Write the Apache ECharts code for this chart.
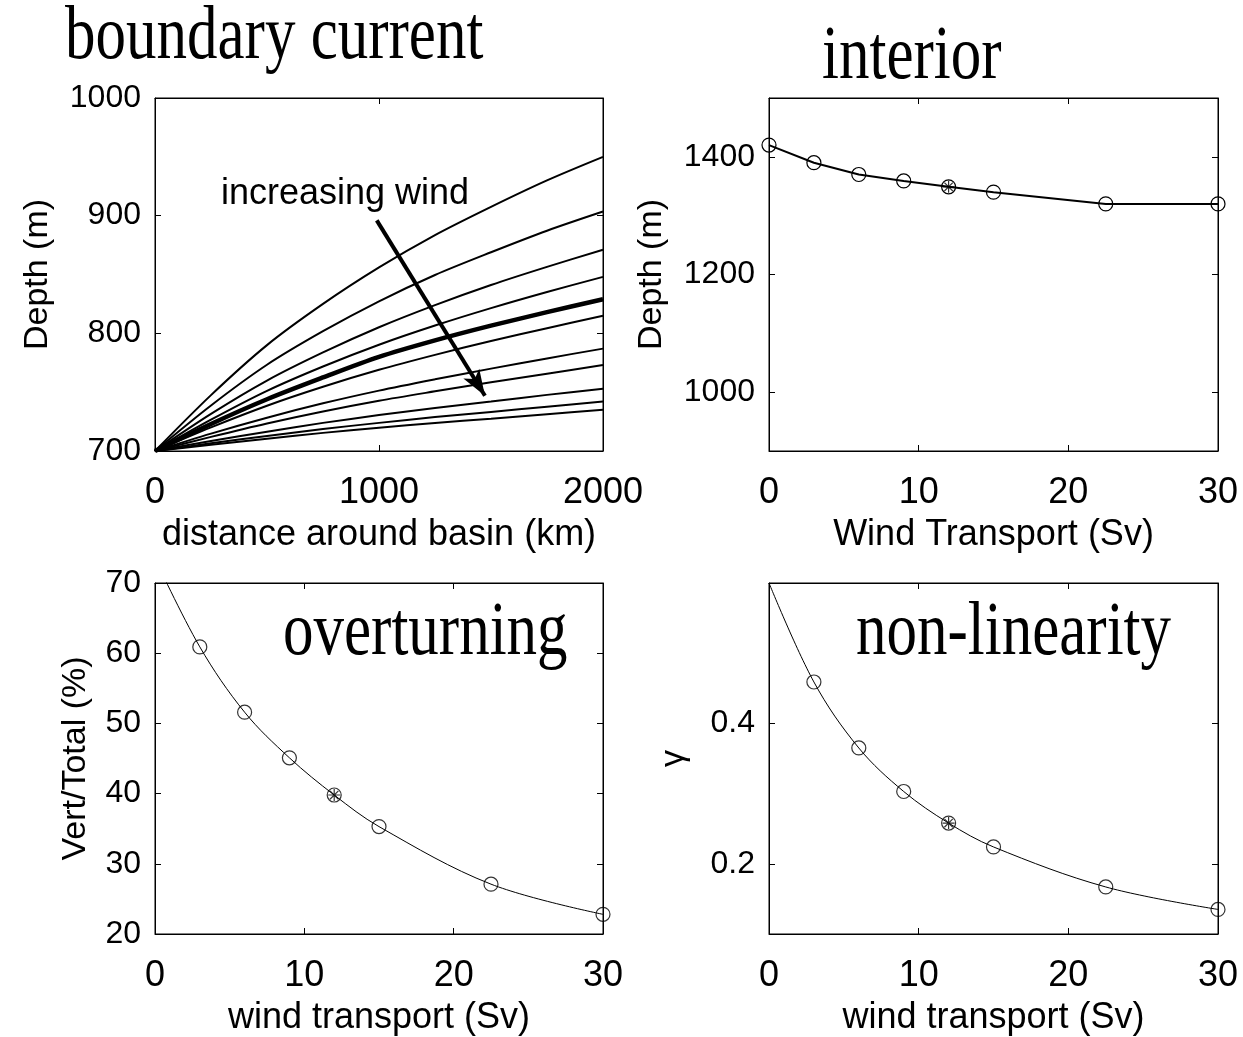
<!DOCTYPE html>
<html>
<head>
<meta charset="utf-8">
<script src="https://cdn.jsdelivr.net/npm/echarts@6/dist/echarts.min.js"></script>
<style>
  html, body { margin: 0; background: #fff; }
  #chart { width: 1243px; height: 1037px; }
</style>
</head>
<body>
<div id="chart"></div>
<script>
// ---- data ----
// boundary current: depth (m) along the basin edge, one curve per wind strength
const distKm = [0, 250, 500, 750, 1000, 1250, 1500, 1750, 2000];
const bcDepth = [
  [700, 747.5, 790, 825, 856, 883.5, 907.5, 930, 950],
  [700, 738.7, 773.3, 801.8, 827.2, 849.6, 868.9, 887.2, 903.5],
  [700, 731.6, 759.9, 783.8, 805.2, 824, 841.1, 856.5, 871],
  [700, 726.6, 751.1, 771.8, 790.3, 806.6, 821.4, 835.1, 848],
  [700, 723, 744, 762.5, 780, 794, 806.5, 818, 829],
  [700, 720.1, 738.5, 754.6, 769, 781.7, 793.5, 804.4, 815],
  [700, 714.8, 728.3, 740.5, 751.3, 760.9, 770, 778.7, 787],
  [700, 712, 723.4, 733.6, 742.7, 750.7, 758.4, 765.7, 773],
  [700, 708.5, 716.4, 723.9, 730.5, 736.6, 742.1, 747.7, 753],
  [700, 706.5, 712.8, 718.7, 723.9, 728.8, 733.2, 737.6, 742],
  [700, 705.3, 710.5, 715.4, 719.8, 723.8, 727.5, 731.3, 735]
];
const boldCurve = 4;
const arrowFrom = [990, 896];
const arrowTo = [1473, 747];

// interior depth vs wind transport
const windSv = [0, 3, 6, 9, 12, 15, 22.5, 30];
const interiorDepth = [1420, 1390, 1370, 1359, 1349, 1340, 1320, 1320];

// overturning and non-linearity (first value is where the curve leaves the top of the box)
const overturnPct = [73.5, 60.9, 51.6, 45.1, 39.8, 35.3, 27.1, 22.8];
const gammaVal = [0.600, 0.459, 0.365, 0.303, 0.258, 0.224, 0.167, 0.135];
const starSv = 12;

// tick values
const bcXTicks = [0, 1000, 2000];
const bcYTicks = [700, 800, 900, 1000];
const windTicks = [0, 10, 20, 30];
const interiorTicks = [1000, 1200, 1400];
const overturnTicks = [20, 30, 40, 50, 60, 70];
const gammaTicks = [0.2, 0.4];

// ---- styling helpers ----
const SANS = '"Liberation Sans", Arial, Helvetica, sans-serif';
const SERIF = '"Liberation Serif", "Times New Roman", serif';
const INK = '#000';

function axis(gridIndex, pos, min, max, ticks, opts) {
  opts = opts || {};
  const main = pos === 'bottom' || pos === 'left';
  const isX = pos === 'bottom' || pos === 'top';
  return {
    type: 'value',
    gridIndex: gridIndex,
    position: pos,
    min: min,
    max: max,
    name: main ? (opts.name || '') : '',
    nameLocation: 'middle',
    nameGap: opts.nameGap || 60,
    nameRotate: isX ? 0 : 90,
    nameTextStyle: { fontFamily: SANS, fontSize: isX ? 36 : 34, color: INK },
    axisLine: { show: true, onZero: false, lineStyle: { color: INK, width: 1 } },
    axisTick: { show: true, inside: true, length: 6, customValues: ticks, lineStyle: { color: INK, width: 1 } },
    axisLabel: {
      show: main,
      customValues: ticks,
      formatter: v => String(v),
      fontFamily: SANS,
      fontSize: isX ? 36 : 32,
      color: INK,
      margin: isX ? 24 : 14
    },
    splitLine: { show: false }
  };
}

const grids = [
  { left: 155, top: 98, width: 448, height: 353 },
  { left: 769, top: 98, width: 449, height: 353 },
  { left: 155, top: 583, width: 448, height: 353 },
  { left: 769, top: 583, width: 449, height: 353 }
].map(g => Object.assign({ show: true, borderColor: INK, borderWidth: 1, backgroundColor: '#fff' }, g));

const xAxes = [
  axis(0, 'bottom', 0, 2000, bcXTicks, { name: 'distance around basin (km)', nameGap: 66 }),
  axis(0, 'top', 0, 2000, bcXTicks),
  axis(1, 'bottom', 0, 30, windTicks, { name: 'Wind Transport (Sv)', nameGap: 66 }),
  axis(1, 'top', 0, 30, windTicks),
  axis(2, 'bottom', 0, 30, windTicks, { name: 'wind transport (Sv)', nameGap: 66 }),
  axis(2, 'top', 0, 30, windTicks),
  axis(3, 'bottom', 0, 30, windTicks, { name: 'wind transport (Sv)', nameGap: 66 }),
  axis(3, 'top', 0, 30, windTicks)
];
const yAxes = [
  axis(0, 'left', 700, 1000, bcYTicks, { name: 'Depth (m)', nameGap: 100 }),
  axis(0, 'right', 700, 1000, bcYTicks),
  axis(1, 'left', 900, 1500, interiorTicks, { name: 'Depth (m)', nameGap: 100 }),
  axis(1, 'right', 900, 1500, interiorTicks),
  axis(2, 'left', 20, 70, overturnTicks, { name: 'Vert/Total (%)', nameGap: 62 }),
  axis(2, 'right', 20, 70, overturnTicks),
  axis(3, 'left', 0.1, 0.6, gammaTicks, { name: 'γ', nameGap: 78 }),
  axis(3, 'right', 0.1, 0.6, gammaTicks)
];

const STAR = 'path://M0,-10L0,10M-10,0L10,0M-7,-7L7,7M-7,7L7,-7';
const openCircle = { color: 'transparent', borderColor: INK, borderWidth: 1.2 };

function pairs(xs, ys) { return xs.map((x, i) => [x, ys[i]]); }

const series = [];

// panel 1: boundary current curves
bcDepth.forEach((curve, i) => {
  const s = {
    type: 'line',
    xAxisIndex: 0, yAxisIndex: 0,
    data: pairs(distKm, curve),
    smooth: 0.3,
    showSymbol: false,
    silent: true,
    lineStyle: { color: INK, width: i === boldCurve ? 4.5 : 2 },
    z: 3
  };
  if (i === boldCurve) {
    s.markLine = {
      silent: true,
      symbol: ['none', 'arrow'],
      symbolSize: [14, 26],
      label: { show: false },
      lineStyle: { color: INK, width: 4, type: 'solid' },
      data: [[{ coord: arrowFrom }, { coord: arrowTo }]]
    };
  }
  series.push(s);
});

// panel 2: interior
series.push({
  type: 'line', xAxisIndex: 2, yAxisIndex: 2,
  data: pairs(windSv, interiorDepth),
  symbol: 'circle', symbolSize: 14, showAllSymbol: true,
  itemStyle: openCircle,
  lineStyle: { color: INK, width: 2 }
});
series.push({
  type: 'scatter', xAxisIndex: 2, yAxisIndex: 2,
  data: pairs(windSv, interiorDepth).filter(p => p[0] === starSv),
  symbol: STAR, symbolSize: 12,
  itemStyle: { color: 'transparent', borderColor: INK, borderWidth: 1.2 }, z: 4
});

// panels 3 and 4: smooth curve plus markers
[[4, overturnPct], [6, gammaVal]].forEach(([ax, vals]) => {
  series.push({
    type: 'line', xAxisIndex: ax, yAxisIndex: ax,
    data: pairs(windSv, vals),
    smooth: 0.35, showSymbol: false,
    lineStyle: { color: INK, width: 1 }
  });
  series.push({
    type: 'scatter', xAxisIndex: ax, yAxisIndex: ax,
    data: pairs(windSv, vals).slice(1),
    symbol: 'circle', symbolSize: 14,
    itemStyle: openCircle, z: 4
  });
  series.push({
    type: 'scatter', xAxisIndex: ax, yAxisIndex: ax,
    data: pairs(windSv, vals).filter(p => p[0] === starSv),
    symbol: STAR, symbolSize: 12,
    itemStyle: { color: 'transparent', borderColor: INK, borderWidth: 1.2 }, z: 5
  });
});

function serifTitle(text, x, y) {
  return {
    type: 'text', x: x, y: y, scaleY: 1.25, z: 10,
    style: { text: text, fontFamily: SERIF, fontSize: 61, fill: INK, verticalAlign: 'bottom' }
  };
}

const chart = echarts.init(document.getElementById('chart'), null, { renderer: 'canvas' });
chart.setOption({
  backgroundColor: '#fff',
  animation: false,
  grid: grids,
  xAxis: xAxes,
  yAxis: yAxes,
  series: series,
  graphic: [
    serifTitle('boundary current', 65, 76),
    serifTitle('interior', 822, 96),
    serifTitle('overturning', 283, 672),
    serifTitle('non-linearity', 856, 672),
    {
      type: 'text', x: 221, y: 176, z: 10,
      style: { text: 'increasing wind', fontFamily: SANS, fontSize: 36, fill: INK, verticalAlign: 'top' }
    }
  ]
});
</script>
</body>
</html>
